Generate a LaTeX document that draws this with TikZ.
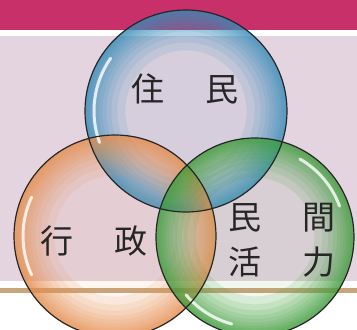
\documentclass[tikz,border=0pt]{standalone}
\usepackage{fontspec}
\newfontfamily\cjk{Noto Sans CJK JP}
\definecolor{bandmag}{HTML}{C8306A}
\definecolor{lav}{HTML}{E4D4E0}
\definecolor{tan}{HTML}{C9A57C}
\definecolor{cblue}{HTML}{3A8FBC}
\definecolor{corange}{HTML}{E8904F}
\definecolor{cgreen}{HTML}{3F9F3C}
\newcommand\bubblefill[3]{% centre, radius, colour
  \fill[#3, opacity=0.08] (#1) circle[radius=#2];
  \foreach \k in {0.6,0.68,0.74,0.79,0.83,0.865,0.895,0.92,0.94,0.96,0.98}{
    \fill[#3, opacity=0.13, even odd rule] (#1) circle[radius=#2] (#1) circle[radius=\k*#2];
  }}
\tikzset{
  rim/.style={draw=black!85, line width=1.2pt},
  gloss/.style={draw=white, line width=3pt, line cap=round, opacity=0.8},
  word/.style={font=\cjk\fontsize{33}{45}\selectfont, text=black!85, inner sep=0pt, align=center}
}
\begin{document}
\begin{tikzpicture}[x=1pt,y=-1pt]
\useasboundingbox (0,0) rectangle (357,330);
% background
\fill[white] (0,0) rectangle (357,330);
\fill[bandmag] (0,0) rectangle (357,30);
\fill[lav] (0,36) rectangle (357,281);
\fill[tan] (0,288) rectangle (357,293);
% circle centres
\coordinate (cb) at (186,111);
\coordinate (co) at (115,236);
\coordinate (cg) at (255,237);
% bubbles
\bubblefill{cb}{101}{cblue}
\bubblefill{co}{101}{corange}
\bubblefill{cg}{99}{cgreen}
% gloss highlights
\draw[gloss] ([shift={(160:92)}]cb) arc[start angle=160,end angle=215,radius=92];
\draw[gloss] ([shift={(155:92)}]co) arc[start angle=155,end angle=205,radius=92];
\draw[gloss] ([shift={(105:90)}]cg) arc[start angle=105,end angle=140,radius=90];
\draw[gloss] ([shift={(-20:90)}]cg) arc[start angle=-20,end angle=-60,radius=90];
% outlines
\draw[rim] (cb) circle[radius=101];
\draw[rim] (co) circle[radius=101];
\draw[rim] (cg) circle[radius=99];
% labels
\node[word] (jumin) at (185,89) {住\hspace{42pt}民};
\node[word] (gyosei) at (94,241) {行\hspace{42pt}政};
\node[word] (minkan) at (282,240) {民\hspace{42pt}間\\活\hspace{42pt}力};
\end{tikzpicture}
\end{document}
